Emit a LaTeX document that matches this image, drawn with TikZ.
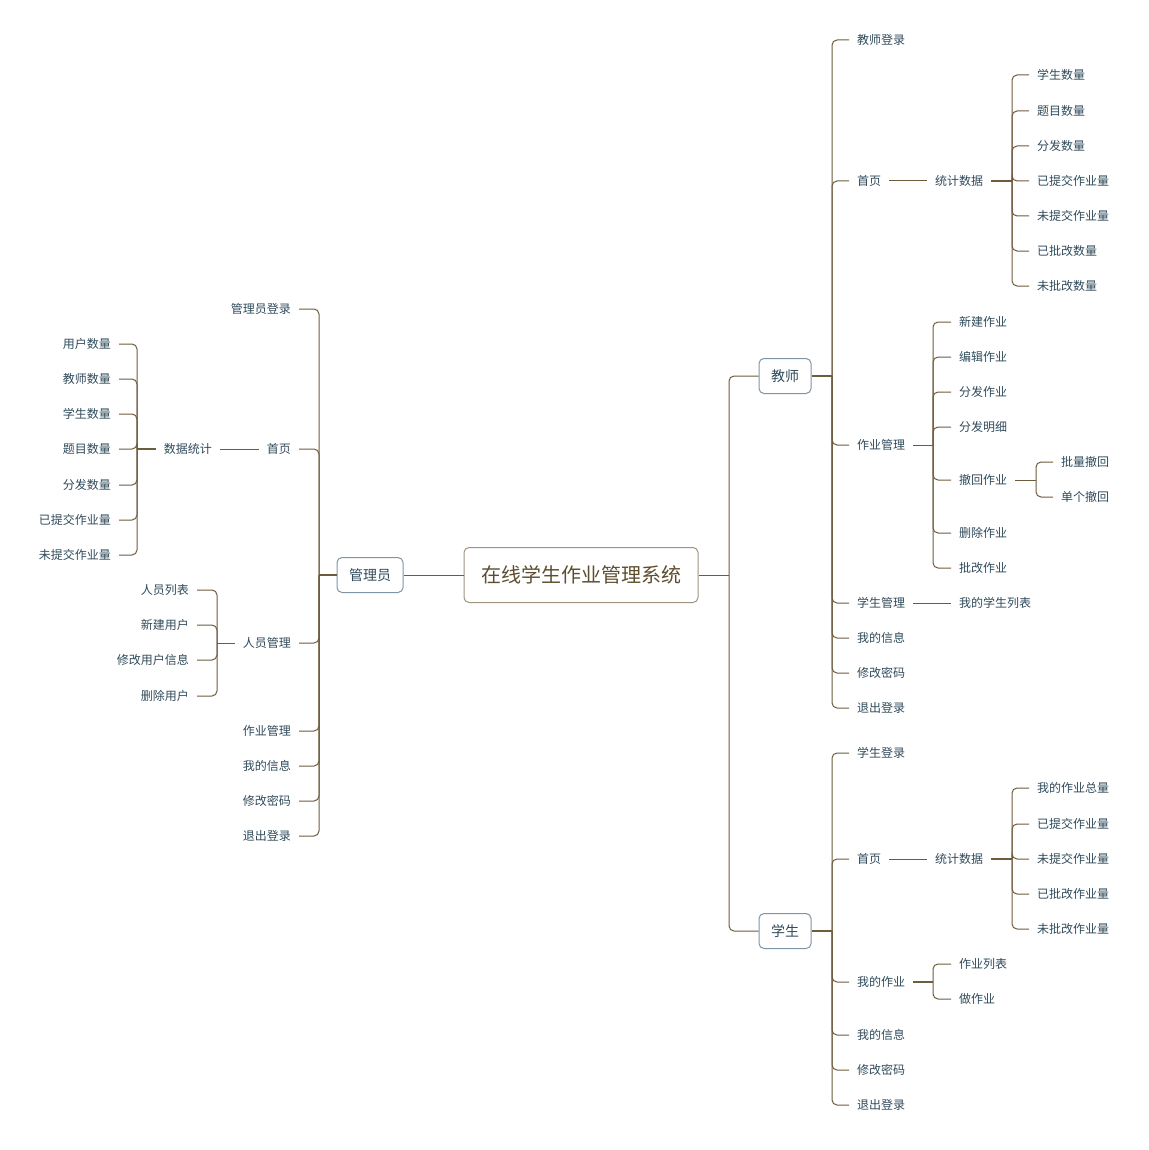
\documentclass[tikz,border=0pt]{standalone}
\usepackage{fontspec}
\setmainfont{Noto Sans CJK SC}
\definecolor{linea}{HTML}{6E5C3E}
\definecolor{testo}{HTML}{2F4A5A}
\definecolor{bordo}{HTML}{7F95A5}
\definecolor{bordoradice}{HTML}{A09480}
\definecolor{testoradice}{HTML}{5E4E30}
\begin{document}
\begin{tikzpicture}[x=1pt, y=-1pt,
    voce/.style={text=testo, font=\fontsize{12}{14}\selectfont, inner xsep=8pt, inner ysep=3pt},
    ruolo/.style={draw=bordo, line width=1pt, rounded corners=5pt, text=testo, font=\fontsize{14}{16}\selectfont, inner xsep=12pt, minimum height=35pt},
    radice/.style={draw=bordoradice, line width=1pt, rounded corners=5pt, fill=white, text=testoradice, font=\fontsize{20}{24}\selectfont, inner xsep=17pt, minimum height=55pt},
    arco/.style={draw=linea, line width=1pt, rounded corners=5pt},
    tronco/.style={draw=linea, line width=2pt}]
    \useasboundingbox (0,0) rectangle (1148,1150);

    % Nodi
    \node[radice] (root) at (581,575) {在线学生作业管理系统};
    \node[ruolo] (adm) at (370,575) {管理员};
    \node[ruolo] (doc) at (785,376) {教师};
    \node[ruolo] (stu) at (785,931) {学生};

    % punti di diramazione
    \coordinate (sR) at (729,575);
    \coordinate (sA) at (319,575);
    \coordinate (sT) at (832,376);
    \coordinate (sS) at (832,931);

    % Amministratore
    \node[voce, anchor=east] (a1) at (299,309) {管理员登录};
    \node[voce, anchor=east] (a2) at (299,449) {首页};
    \node[voce, anchor=east] (a3) at (299,643) {人员管理};
    \node[voce, anchor=east] (a4) at (299,731) {作业管理};
    \node[voce, anchor=east] (a5) at (299,766) {我的信息};
    \node[voce, anchor=east] (a6) at (299,801) {修改密码};
    \node[voce, anchor=east] (a7) at (299,836) {退出登录};

    \node[voce, anchor=east] (ads) at (220,449) {数据统计};
    \coordinate (sAds) at (137,449);
    \node[voce, anchor=east] (ads1) at (119,344) {用户数量};
    \node[voce, anchor=east] (ads2) at (119,379) {教师数量};
    \node[voce, anchor=east] (ads3) at (119,414) {学生数量};
    \node[voce, anchor=east] (ads4) at (119,449) {题目数量};
    \node[voce, anchor=east] (ads5) at (119,485) {分发数量};
    \node[voce, anchor=east] (ads6) at (119,520) {已提交作业量};
    \node[voce, anchor=east] (ads7) at (119,555) {未提交作业量};

    \coordinate (sApm) at (217,643);
    \node[voce, anchor=east] (apm1) at (197,590) {人员列表};
    \node[voce, anchor=east] (apm2) at (197,625) {新建用户};
    \node[voce, anchor=east] (apm3) at (197,660) {修改用户信息};
    \node[voce, anchor=east] (apm4) at (197,696) {删除用户};

    % Docente
    \node[voce, anchor=west] (t1) at (849,40) {教师登录};
    \node[voce, anchor=west] (t2) at (849,181) {首页};
    \node[voce, anchor=west] (t3) at (849,445) {作业管理};
    \node[voce, anchor=west] (t4) at (849,603) {学生管理};
    \node[voce, anchor=west] (t5) at (849,638) {我的信息};
    \node[voce, anchor=west] (t6) at (849,673) {修改密码};
    \node[voce, anchor=west] (t7) at (849,708) {退出登录};

    \node[voce, anchor=west] (tsd) at (927,181) {统计数据};
    \coordinate (sTsd) at (1012,181);
    \node[voce, anchor=west] (tsd1) at (1029,75) {学生数量};
    \node[voce, anchor=west] (tsd2) at (1029,111) {题目数量};
    \node[voce, anchor=west] (tsd3) at (1029,146) {分发数量};
    \node[voce, anchor=west] (tsd4) at (1029,181) {已提交作业量};
    \node[voce, anchor=west] (tsd5) at (1029,216) {未提交作业量};
    \node[voce, anchor=west] (tsd6) at (1029,251) {已批改数量};
    \node[voce, anchor=west] (tsd7) at (1029,286) {未批改数量};

    \coordinate (sTzy) at (933,445);
    \node[voce, anchor=west] (tzy1) at (951,322) {新建作业};
    \node[voce, anchor=west] (tzy2) at (951,357) {编辑作业};
    \node[voce, anchor=west] (tzy3) at (951,392) {分发作业};
    \node[voce, anchor=west] (tzy4) at (951,427) {分发明细};
    \node[voce, anchor=west] (tzy5) at (951,480) {撤回作业};
    \node[voce, anchor=west] (tzy6) at (951,533) {删除作业};
    \node[voce, anchor=west] (tzy7) at (951,568) {批改作业};

    \coordinate (sTch) at (1036,480);
    \node[voce, anchor=west] (tch1) at (1053,462) {批量撤回};
    \node[voce, anchor=west] (tch2) at (1053,497) {单个撤回};

    \node[voce, anchor=west] (txs) at (951,603) {我的学生列表};

    % Studente
    \node[voce, anchor=west] (s1) at (849,753) {学生登录};
    \node[voce, anchor=west] (s2) at (849,859) {首页};
    \node[voce, anchor=west] (s3) at (849,982) {我的作业};
    \node[voce, anchor=west] (s4) at (849,1035) {我的信息};
    \node[voce, anchor=west] (s5) at (849,1070) {修改密码};
    \node[voce, anchor=west] (s6) at (849,1105) {退出登录};

    \node[voce, anchor=west] (ssd) at (927,859) {统计数据};
    \coordinate (sSsd) at (1012,859);
    \node[voce, anchor=west] (ssd1) at (1029,788) {我的作业总量};
    \node[voce, anchor=west] (ssd2) at (1029,824) {已提交作业量};
    \node[voce, anchor=west] (ssd3) at (1029,859) {未提交作业量};
    \node[voce, anchor=west] (ssd4) at (1029,894) {已批改作业量};
    \node[voce, anchor=west] (ssd5) at (1029,929) {未批改作业量};

    \coordinate (sSzy) at (933,982);
    \node[voce, anchor=west] (szy1) at (951,964) {作业列表};
    \node[voce, anchor=west] (szy2) at (951,999) {做作业};

    % Archi
    \draw[arco] (root.west) -- (adm.east);
    \draw[arco] (root.east) -- (sR);
    \draw[arco] (sR) |- (doc.west);
    \draw[arco] (sR) |- (stu.west);

    \draw[tronco] (adm.west) -- (sA);
    \foreach \n in {a1,a2,a3,a4,a5,a6,a7} \draw[arco] (sA) |- (\n.east);
    \draw[arco] (a2.west) -- (ads.east);
    \draw[tronco] (ads.west) -- (sAds);
    \foreach \n in {ads1,ads2,ads3,ads4,ads5,ads6,ads7} \draw[arco] (sAds) |- (\n.east);
    \draw[arco] (a3.west) -- (sApm);
    \foreach \n in {apm1,apm2,apm3,apm4} \draw[arco] (sApm) |- (\n.east);

    \draw[tronco] (doc.east) -- (sT);
    \foreach \n in {t1,t2,t3,t4,t5,t6,t7} \draw[arco] (sT) |- (\n.west);
    \draw[arco] (t2.east) -- (tsd.west);
    \draw[tronco] (tsd.east) -- (sTsd);
    \foreach \n in {tsd1,tsd2,tsd3,tsd4,tsd5,tsd6,tsd7} \draw[arco] (sTsd) |- (\n.west);
    \draw[arco] (t3.east) -- (sTzy);
    \foreach \n in {tzy1,tzy2,tzy3,tzy4,tzy5,tzy6,tzy7} \draw[arco] (sTzy) |- (\n.west);
    \draw[arco] (tzy5.east) -- (sTch);
    \foreach \n in {tch1,tch2} \draw[arco] (sTch) |- (\n.west);
    \draw[arco] (t4.east) -- (txs.west);

    \draw[tronco] (stu.east) -- (sS);
    \foreach \n in {s1,s2,s3,s4,s5,s6} \draw[arco] (sS) |- (\n.west);
    \draw[arco] (s2.east) -- (ssd.west);
    \draw[tronco] (ssd.east) -- (sSsd);
    \foreach \n in {ssd1,ssd2,ssd3,ssd4,ssd5} \draw[arco] (sSsd) |- (\n.west);
    \draw[tronco] (s3.east) -- (sSzy);
    \foreach \n in {szy1,szy2} \draw[arco] (sSzy) |- (\n.west);

\end{tikzpicture}
\end{document}
